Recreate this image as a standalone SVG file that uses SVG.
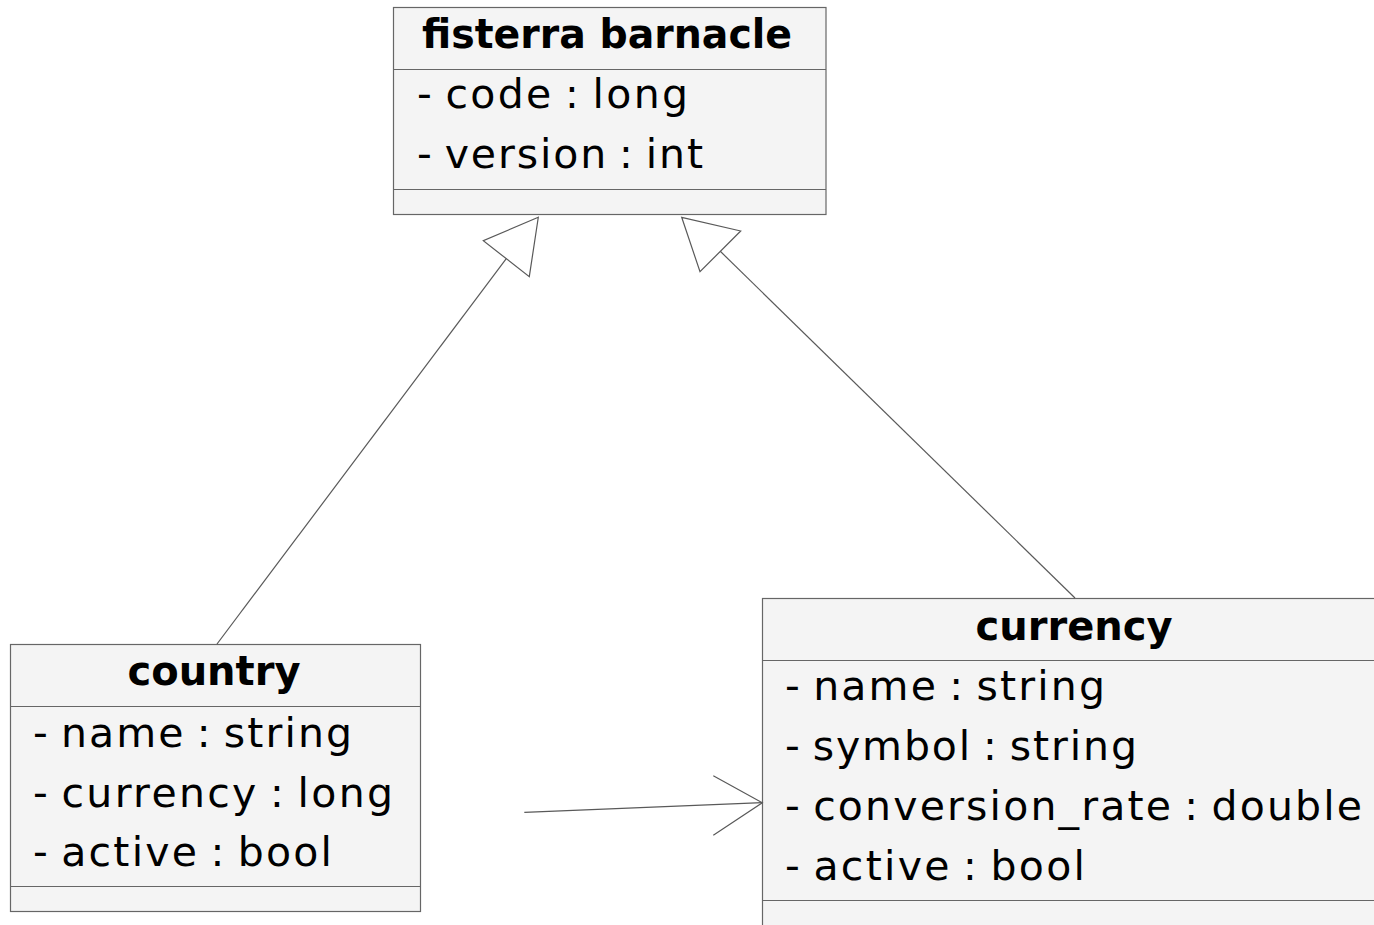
<svg xmlns="http://www.w3.org/2000/svg" width="1374" height="925" viewBox="0 0 1374 925">
<style>
.box{fill:#F4F4F4;stroke:#666666;stroke-width:1.2}
.sep{stroke:#666666;stroke-width:1.2}
.title{font-family:"DejaVu Sans",sans-serif;font-weight:bold;font-size:40px;fill:#000;text-anchor:middle}
.attr{font-family:"DejaVu Sans",sans-serif;font-size:41px;fill:#000;word-spacing:-4px}
.edge{fill:none;stroke:#595959;stroke-width:1.2}
</style>
<rect width="1374" height="925" fill="#FFFFFF"/>
<g id="fisterra_barnacle">
<rect class="box" x="393.5" y="7.5" width="432.5" height="207"/>
<line class="sep" x1="393.5" y1="69.5" x2="826" y2="69.5"/>
<line class="sep" x1="393.5" y1="189.5" x2="826" y2="189.5"/>
<text class="title" x="607" y="48" textLength="370" lengthAdjust="spacingAndGlyphs">fisterra barnacle</text>
<text class="attr" x="417" y="108" textLength="271" lengthAdjust="spacing">- code : long</text>
<text class="attr" x="417" y="168" textLength="286" lengthAdjust="spacing">- version : int</text>
</g>
<g id="country">
<rect class="box" x="10.5" y="644.5" width="410" height="267"/>
<line class="sep" x1="10.5" y1="706.5" x2="420.5" y2="706.5"/>
<line class="sep" x1="10.5" y1="886.5" x2="420.5" y2="886.5"/>
<text class="title" x="214" y="685">country</text>
<text class="attr" x="33" y="747" textLength="319" lengthAdjust="spacing">- name : string</text>
<text class="attr" x="33" y="807" textLength="360" lengthAdjust="spacing">- currency : long</text>
<text class="attr" x="33" y="866" textLength="299" lengthAdjust="spacing">- active : bool</text>
</g>
<g id="currency">
<rect class="box" x="762.5" y="598.5" width="620" height="340"/>
<line class="sep" x1="762.5" y1="660.5" x2="1382" y2="660.5"/>
<line class="sep" x1="762.5" y1="900.5" x2="1382" y2="900.5"/>
<text class="title" x="1074" y="640">currency</text>
<text class="attr" x="785" y="700" textLength="320" lengthAdjust="spacing">- name : string</text>
<text class="attr" x="785" y="760" textLength="352" lengthAdjust="spacing">- symbol : string</text>
<text class="attr" x="785" y="820" textLength="577" lengthAdjust="spacing">- conversion_rate : double</text>
<text class="attr" x="785" y="880" textLength="300" lengthAdjust="spacing">- active : bool</text>
</g>
<g id="connectors">
<line class="edge" x1="217" y1="644" x2="506.3" y2="258.7"/>
<polygon class="edge" points="538.3,217.3 483.3,240.7 529.3,276.7"/>
<line class="edge" x1="1075" y1="598" x2="720.3" y2="251.3"/>
<polygon class="edge" points="681.7,217.3 740.7,231 700,271.7"/>
<line class="edge" x1="524.3" y1="812.3" x2="762.3" y2="802.7"/>
<polyline class="edge" points="713.3,775.7 762.3,802.7 713.3,835.3"/>
</g>
</svg>
